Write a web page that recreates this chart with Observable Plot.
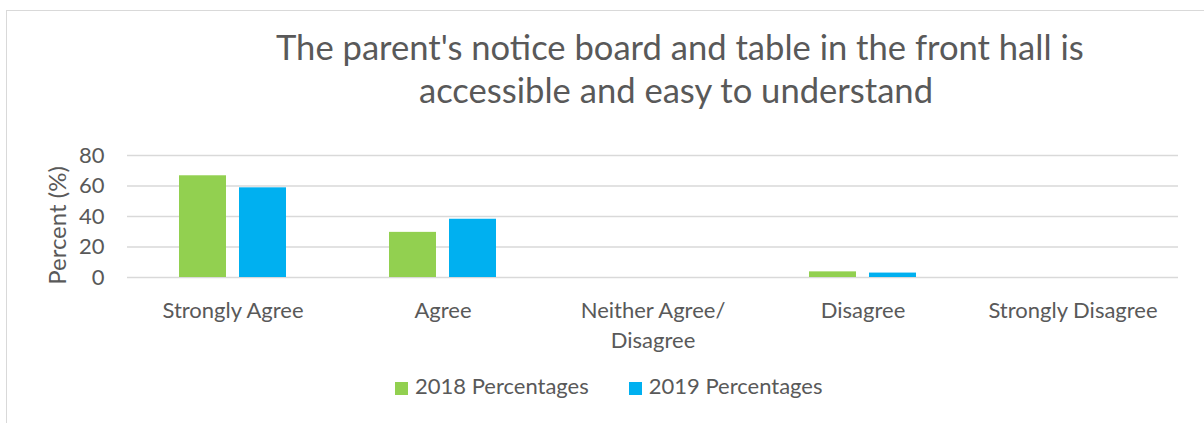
<!DOCTYPE html>
<html><head><meta charset="utf-8">
<script src="https://cdn.jsdelivr.net/npm/d3@7"></script>
<script src="https://cdn.jsdelivr.net/npm/@observablehq/plot@0.6"></script>
<style>
html,body{margin:0;padding:0;background:#fff;}
#chart{position:relative;width:1204px;height:423px;overflow:hidden;font-family:Lato,sans-serif;color:#595959;}
#frame{position:absolute;left:6px;top:10px;width:1300px;height:500px;border-left:1px solid #d9d9d9;border-top:1px solid #d9d9d9;}
#title{position:absolute;left:276px;width:800px;top:25px;text-align:center;font-size:34.6px;line-height:43px;white-space:nowrap;}
#plot{position:absolute;left:0;top:0;}
#legend{position:absolute;left:395px;top:374px;font-size:22px;line-height:24px;white-space:nowrap;}
#legend .item{display:inline-block;margin-right:40px;}
#legend .sw{display:inline-block;width:13px;height:13px;margin-right:7px;vertical-align:-1px;}
</style>
</head><body>
<div id="chart">
  <div id="frame"></div>
  <div id="title">The parent's notice board and table in the front hall is<br>accessible and easy to understand</div>
  <div id="plot"></div>
  <div id="legend"></div>
</div>
<script>
const categories = ["Strongly Agree","Agree","Neither Agree/ Disagree","Disagree","Strongly Disagree"];
const categoryLabels = ["Strongly Agree","Agree","Neither Agree/\nDisagree","Disagree","Strongly Disagree"];
const series = ["2018 Percentages","2019 Percentages"];
const values2018 = [66.7, 29.6, 0, 3.7, 0];
const values2019 = [58.8, 38.2, 0, 2.9, 0];
const colors = ["#92D050","#00B0F0"];
const yTicks = [0,20,40,60,80];
const yLabel = "Percent (%)";

const rows2018 = categories.map((c,i)=>({cat:c, series:series[0], value:values2018[i]}));
const rows2019 = categories.map((c,i)=>({cat:c, series:series[1], value:values2019[i]}));

const plot = Plot.plot({
  width:1204, height:360, marginLeft:127, marginRight:26, marginTop:155, marginBottom:83,
  style:{fontFamily:"Lato, sans-serif", fontSize:"22px", color:"#595959", background:"transparent"},
  x:{domain:categories, paddingInner:0.491, paddingOuter:0.2455, axis:null},
  y:{domain:[0,80], axis:null},
  color:{domain:series, range:colors},
  marks:[
    Plot.ruleY(yTicks,{stroke:"#d9d9d9", strokeWidth:1.3}),
    Plot.barY(rows2018,{x:"cat", y:"value", fill:"series", insetRight:60}),
    Plot.barY(rows2019,{x:"cat", y:"value", fill:"series", insetLeft:60}),
    Plot.axisY({ticks:yTicks, tickSize:0, tickPadding:23, label:null, fontSize:22}),
    Plot.axisX({anchor:"bottom", tickSize:0, tickPadding:19, label:null, fontSize:22, lineHeight:1.36,
      tickFormat:d=>categoryLabels[categories.indexOf(d)]}),
    Plot.text([yLabel],{frameAnchor:"left", textAnchor:"middle", rotate:-90, dx:-69, dy:9, fontSize:24, fill:"#595959"})
  ]
});
document.getElementById("plot").appendChild(plot);

const legend = document.getElementById("legend");
series.forEach((s,i)=>{
  const item = document.createElement("span"); item.className="item";
  const sw = document.createElement("span"); sw.className="sw"; sw.style.background=colors[i];
  item.appendChild(sw); item.appendChild(document.createTextNode(s));
  legend.appendChild(item);
});
</script>
</body></html>
